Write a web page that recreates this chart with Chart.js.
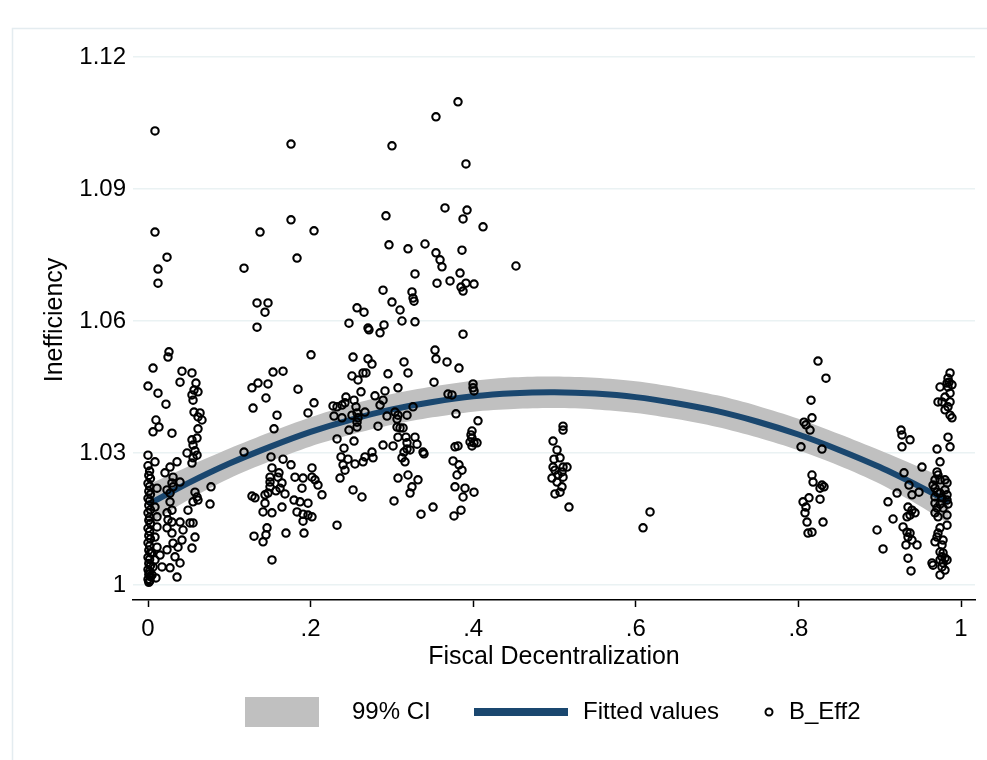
<!DOCTYPE html>
<html lang="en">
<head>
<meta charset="UTF-8">
<title>Inefficiency and Fiscal Decentralization</title>
<script src="https://cdn.jsdelivr.net/npm/chart.js@4"></script>
<style>
  html, body { margin: 0; padding: 0; background: #fff; }
  #wrap { width: 987px; height: 760px; }
</style>
</head>
<body>
<div id="wrap"><canvas id="effChart" width="987" height="760"></canvas></div>
<script>
// B_Eff2 observations as [fiscal decentralization, inefficiency], by cluster
const nearZero = [
  [.0086,1.1032],[.0086,1.0802],[.0234,1.0745],[.0123,1.0718],[.0123,1.0686],[.0258,1.0530],[.0246,1.0518],
  [.0062,1.0493],[.0418,1.0486],[.0541,1.0482],[.0394,1.0461],[.0590,1.0459],[0,1.0452],[.0123,1.0436],
  [.0566,1.0443],[.0615,1.0439],[.0541,1.0432],[.0554,1.0420],[.0221,1.0411],[.0566,1.0393],[.0640,1.0391],
  [.0664,1.0375],[.0615,1.0382],[.0098,1.0375],[.0135,1.0359],[.0062,1.0348],[.0295,1.0345],[.0615,1.0355],
  [.0603,1.0334],[.0541,1.0330],[.0554,1.0318],[.0480,1.0300],[.0578,1.0305],[.0603,1.0295],[.0541,1.0277],
  [.0554,1.0289],[0,1.0295],[.0086,1.0280],[.0357,1.0280],[.0271,1.0268],[.0209,1.0255],[.0308,1.0245],
  [.0394,1.0234],[.0295,1.0232],[.0111,1.0220],[.0234,1.0216],[.0271,1.0209],[.0308,1.0223],[.0775,1.0223],
  [.0578,1.0211],[.0603,1.0200],[.0554,1.0189],[.0615,1.0193],[.0763,1.0184],[.0492,1.0170],[.0271,1.0189],
  [.0295,1.0170],[.0234,1.0164],[.0246,1.0148],[.0295,1.0143],[.0394,1.0143],[.0517,1.0141],[.0554,1.0141],
  [.0234,1.0130],[.0295,1.0118],[.0431,1.0125],[.0578,1.0109],[.0418,1.0102],[.0308,1.0095],[.0369,1.0086],
  [.0541,1.0084],[.0234,1.0080],[.0332,1.0064],[.0394,1.0050],[.0271,1.0039],[.0357,1.0018],[.0086,1.0177],
  [.0111,1.0155],[.0111,1.0132],[.0086,1.0109],[.0111,1.0086],[.0049,1.0073],[.0086,1.0057],[.0062,1.0041],
  [.0148,1.0068],[.0172,1.0041],[.0050,1.0023],[.0098,1.0016],[.0025,1.0011],
  [0,1.0271],[.002,1.0259],[.001,1.0249],[.003,1.0242],[0,1.0231],[.002,1.0224],[.001,1.0213],[.003,1.0206],
  [0,1.0197],[.002,1.0191],[.001,1.0181],[.003,1.0171],[0,1.0164],[.002,1.0154],[.001,1.0147],[.003,1.0140],
  [0,1.0129],[.002,1.0122],[.001,1.0112],[.003,1.0105],[0,1.0096],[.002,1.0089],[.001,1.0079],[.003,1.0073],
  [0,1.0063],[.002,1.0058],[.001,1.0049],[.003,1.0044],[0,1.0035],[.002,1.0031],[.001,1.0024],[.003,1.0019],
  [0,1.0013],[.002,1.0009],[.001,1.0006]
];
const lowShare = [
  [.1759,1.1002],[.1759,1.0830],[.1378,1.0802],[.2042,1.0805],[.1833,1.0743],[.1181,1.0720],[.1341,1.0641],
  [.1476,1.0641],[.1439,1.0620],[.1341,1.0586],[.2005,1.0523],[.1538,1.0484],[.1661,1.0486],[.1279,1.0448],
  [.1353,1.0459],[.1476,1.0457],[.1845,1.0445],[.1451,1.0425],[.1292,1.0402],[.2042,1.0414],[.1587,1.0386],
  [.1968,1.0391],[.1550,1.0355],[.1181,1.0302],[.1513,1.0291],[.1661,1.0286],[.1759,1.0273],[.1525,1.0266],
  [.1611,1.0255],[.1501,1.0245],[.1501,1.0234],[.1501,1.0223],[.1476,1.0209],[.1599,1.0245],[.1648,1.0232],
  [.1624,1.0220],[.1808,1.0245],[.1907,1.0243],[.2017,1.0266],[.2017,1.0245],[.2054,1.0239],[.2091,1.0227],
  [.2140,1.0205],[.1574,1.0214],[.1685,1.0207],[.1894,1.0220],[.1279,1.0202],[.1316,1.0198],[.1439,1.0205],
  [.1439,1.0186],[.1648,1.0177],[.1796,1.0193],[.1870,1.0189],[.1968,1.0186],[.1415,1.0166],[.1525,1.0164],
  [.1833,1.0166],[.1907,1.0161],[.1968,1.0159],[.2017,1.0155],[.1907,1.0145],[.1464,1.0130],[.1304,1.0111],
  [.1415,1.0098],[.1451,1.0114],[.1697,1.0118],[.1919,1.0118],[.1525,1.0057]
];
const midShare = [
  [.3813,1.1098],[.3542,1.1064],[.3001,1.0998],[.3911,1.0957],[.3653,1.0857],[.3924,1.0852],[.3875,1.0832],
  [.4121,1.0814],[.2927,1.0839],[.2964,1.0773],[.3198,1.0764],[.3407,1.0775],[.3542,1.0755],[.3592,1.0739],
  [.3616,1.0723],[.3862,1.0761],[.3284,1.0707],[.3555,1.0686],[.3715,1.0691],[.3838,1.0709],[.3911,1.0686],
  [.4010,1.0684],[.3850,1.0677],[.3875,1.0668],[.2891,1.0670],[.3247,1.0666],[.3260,1.0652],[.3001,1.0643],
  [.2571,1.0630],[.2657,1.0620],[.3100,1.0625],[.3272,1.0645],[.3124,1.0600],[.3284,1.0598],[.2472,1.0595],
  [.2903,1.0591],[.2706,1.0584],[.2718,1.0580],[.2854,1.0573],[.3875,1.0570],[.2522,1.0518],[.2706,1.0514],
  [.2755,1.0502],[.3149,1.0507],[.3530,1.0534],[.3542,1.0514],[.3678,1.0507],[.3825,1.0493],[.3198,1.0482],
  [.2509,1.0475],[.2583,1.0466],[.2645,1.0482],[.2681,1.0482],[.2952,1.0480],[.3518,1.0461],[.3075,1.0448],
  [.2620,1.0439],[.2792,1.0430],[.2915,1.0441],[.2891,1.0420],[.2854,1.0409],[.2435,1.0427],[.2534,1.0420],
  [.2423,1.0414],[.2386,1.0409],[.2325,1.0405],[.2276,1.0407],[.2558,1.0405],[.2509,1.0386],[.2571,1.0391],
  [.2583,1.0380],[.2571,1.0370],[.2571,1.0359],[.2288,1.0384],[.2386,1.0380],[.2669,1.0393],[.3038,1.0393],
  [.3075,1.0386],[.3063,1.0377],[.2940,1.0384],[.3186,1.0386],[.3260,1.0405],[.3690,1.0434],[.3739,1.0432],
  [.3998,1.0457],[.3998,1.0448],[.4010,1.0441],[.3788,1.0389],[.4059,1.0373],[.2829,1.0361],[.2472,1.0352],
  [.3063,1.0359],[.3100,1.0357],[.3137,1.0357],[.3075,1.0336],[.3173,1.0336],[.3284,1.0336],[.2325,1.0332],
  [.2534,1.0327],[.3985,1.0350],[.3973,1.0341],[.3985,1.0334],[.3961,1.0325],[.4010,1.0323],[.4047,1.0323],
  [.3985,1.0316],[.3186,1.0323],[.3309,1.0320],[.2891,1.0318],[.3014,1.0316],[.3776,1.0314],[.3813,1.0316],
  [.2411,1.0311],[.3186,1.0309],[.3223,1.0307],[.3149,1.0302],[.3383,1.0302],[.3395,1.0298],[.2755,1.0302],
  [.2374,1.0291],[.2460,1.0286],[.2669,1.0291],[.2645,1.0280],[.2768,1.0289],[.3124,1.0289],[.3161,1.0280],
  [.3752,1.0282],[.3825,1.0273],[.3862,1.0261],[.3801,1.0250],[.2399,1.0273],[.2423,1.0261],[.2546,1.0275],
  [.2362,1.0243],[.3075,1.0243],[.3198,1.0250],[.3321,1.0239],[.3776,1.0223],[.3899,1.0220],[.2522,1.0216],
  [.2632,1.0200],[.3247,1.0223],[.3223,1.0209],[.4010,1.0211],[.3875,1.0200],[.3026,1.0191],[.3506,1.0177],
  [.3358,1.0161],[.3850,1.0170],[.3764,1.0157],[.2325,1.0136],[.4526,1.0725]
];
const halfShare = [
  [.5105,1.0361],[.5105,1.0352],[.4982,1.0327],[.5031,1.0307],[.4994,1.0286],[.5068,1.0289],[.4982,1.0268],
  [.5006,1.0261],[.5105,1.0268],[.5154,1.0268],[.5092,1.0257],[.5043,1.0250],[.5105,1.0245],[.4969,1.0243],
  [.5031,1.0234],[.5092,1.0223],[.5068,1.0211],[.5006,1.0207],[.5178,1.0177],[.6175,1.0166],[.6089,1.0130]
];
const highShare = [
  [.8241,1.0509],[.8339,1.0470],[.8155,1.0420],[.8167,1.0380],[.8069,1.0370],[.8093,1.0364],[.8143,1.0352],
  [.8032,1.0314],[.8290,1.0309],[.8167,1.0250],[.8180,1.0234],[.8290,1.0227],[.8266,1.0220],[.8315,1.0223],
  [.8266,1.0195],[.8130,1.0198],[.8057,1.0189],[.8093,1.0177],[.8081,1.0164],[.8106,1.0143],[.8303,1.0143],
  [.8118,1.0118],[.8167,1.0120]
];
const fullShare = [
  [.9865,1.0482],[.9840,1.0470],[.9852,1.0461],[.9828,1.0459],[.9889,1.0455],[.9742,1.0450],[.9840,1.0450],
  [.9865,1.0436],[.9803,1.0427],[.9717,1.0416],[.9766,1.0416],[.9865,1.0416],[.9840,1.0405],[.9803,1.0398],
  [.9865,1.0386],[.9889,1.0380],[.9262,1.0352],[.9274,1.0341],[.9373,1.0330],[.9274,1.0314],[.9840,1.0336],
  [.9865,1.0314],[.9705,1.0309],[.9742,1.0280],[.9520,1.0268],[.9705,1.0257],[.9717,1.0250],[.9680,1.0239],
  [.9742,1.0239],[.9803,1.0239],[.9828,1.0232],[.9299,1.0255],[.9360,1.0227],[.9397,1.0205],[.9483,1.0211],
  [.9213,1.0209],[.9102,1.0189],[.9656,1.0227],[.9680,1.0220],[.9705,1.0211],[.9742,1.0209],[.9803,1.0216],
  [.9828,1.0205],[.9680,1.0200],[.9766,1.0198],[.9828,1.0193],[.9680,1.0186],[.9742,1.0184],[.9840,1.0184],
  [.9705,1.0175],[.9779,1.0175],[.9680,1.0164],[.9828,1.0159],[.9717,1.0155],[.9348,1.0177],[.9397,1.0170],
  [.9434,1.0164],[.9336,1.0155],[.9373,1.0159],[.9164,1.0150],[.9828,1.0136],[.9742,1.0130],[.9717,1.0118],
  [.9705,1.0109],[.9680,1.0098],[.9779,1.0102],[.9766,1.0091],[.8967,1.0125],[.9287,1.0132],[.9336,1.0120],
  [.9373,1.0118],[.9348,1.0109],[.9397,1.0102],[.9323,1.0091],[.9459,1.0091],[.9041,1.0082],[.9742,1.0075],
  [.9779,1.0073],[.9766,1.0064],[.9803,1.0061],[.9742,1.0057],[.9828,1.0057],[.9779,1.0050],[.9348,1.0061],
  [.9643,1.0050],[.9656,1.0045],[.9766,1.0041],[.9803,1.0034],[.9742,1.0023],[.9385,1.0032]
];

// quadratic fit and its 99% confidence band, read at steps along x
const fitX   = [0, .05, .1, .15, .2, .25, .3, .35, .4, .45, .5, .55, .6, .65, .7, .75, .8, .85, .9, .95, .985];
const fitY   = [1.0183, 1.0232, 1.0276, 1.0314, 1.0348, 1.0376, 1.0399, 1.0416, 1.0429, 1.0436, 1.0438,
                1.0435, 1.0427, 1.0413, 1.0395, 1.0371, 1.0342, 1.0307, 1.0268, 1.0223, 1.0189];
const ciHigh = [1.0228, 1.0270, 1.0310, 1.0347, 1.0381, 1.0410, 1.0434, 1.0451, 1.0464, 1.0472, 1.0474,
                1.0471, 1.0463, 1.0449, 1.0431, 1.0407, 1.0378, 1.0343, 1.0306, 1.0267, 1.0239];
const ciLow  = [1.0138, 1.0194, 1.0242, 1.0281, 1.0315, 1.0342, 1.0364, 1.0381, 1.0394, 1.0400, 1.0402,
                1.0399, 1.0391, 1.0377, 1.0359, 1.0335, 1.0306, 1.0271, 1.0230, 1.0179, 1.0139];

const xTicks = [0, .2, .4, .6, .8, 1];
const yTicks = [1, 1.03, 1.06, 1.09, 1.12];
const legendLabels = ['99% CI', 'Fitted values', 'B_Eff2'];

const FONT = '"Liberation Sans", Arial, Helvetica, sans-serif';
const BAND = '#c0c0c0';
const NAVY = '#1a476f';

const toXY = (xs, ys) => xs.map((x, i) => ({ x: x, y: ys[i] }));
const points = [...nearZero, ...lowShare, ...midShare, ...halfShare, ...highShare, ...fullShare]
  .map(p => ({ x: p[0], y: p[1] }));

const tickText = v => {
  const s = String(v);
  return s.startsWith('0.') ? s.slice(1) : s;
};

// outer frame and the legend row under the plot
const stataFrame = {
  id: 'stataFrame',
  beforeDraw(chart) {
    const ctx = chart.ctx;
    ctx.save();
    ctx.strokeStyle = '#e4ecf0';
    ctx.lineWidth = 1.5;
    ctx.strokeRect(12.5, 28.5, 1200, 1200);
    ctx.restore();
  },
  afterDraw(chart) {
    const ctx = chart.ctx;
    ctx.save();
    ctx.font = '24px ' + FONT;
    ctx.textBaseline = 'middle';
    // band swatch
    ctx.fillStyle = BAND;
    ctx.fillRect(245, 697, 74, 30);
    ctx.fillStyle = '#000';
    ctx.fillText(legendLabels[0], 352, 712);
    // line swatch
    ctx.fillStyle = NAVY;
    ctx.fillRect(474, 708, 94, 8);
    ctx.fillStyle = '#000';
    ctx.fillText(legendLabels[1], 583, 712);
    // marker swatch
    ctx.beginPath();
    ctx.arc(769, 712, 3.5, 0, Math.PI * 2);
    ctx.lineWidth = 2;
    ctx.strokeStyle = '#000';
    ctx.stroke();
    ctx.fillText(legendLabels[2], 789, 712);
    ctx.restore();
  }
};

new Chart(document.getElementById('effChart'), {
  type: 'scatter',
  data: {
    datasets: [
      {
        label: 'ciHigh',
        data: toXY(fitX, ciHigh),
        showLine: true,
        fill: '+1',
        backgroundColor: BAND,
        borderWidth: 0,
        pointRadius: 0,
        tension: 0.3,
        order: 3
      },
      {
        label: 'ciLow',
        data: toXY(fitX, ciLow),
        showLine: true,
        fill: false,
        borderWidth: 0,
        pointRadius: 0,
        tension: 0.3,
        order: 3
      },
      {
        label: 'Fitted values',
        data: toXY(fitX, fitY),
        showLine: true,
        fill: false,
        borderColor: NAVY,
        borderWidth: 6,
        pointRadius: 0,
        tension: 0.3,
        order: 2
      },
      {
        label: 'B_Eff2',
        data: points,
        pointStyle: 'circle',
        pointRadius: 3.7,
        borderWidth: 2.1,
        borderColor: '#000',
        backgroundColor: 'rgba(0,0,0,0)',
        order: 1
      }
    ]
  },
  options: {
    responsive: false,
    animation: false,
    devicePixelRatio: 1,
    layout: { padding: { left: 0, top: 40, right: 12, bottom: 0 } },
    plugins: {
      legend: { display: false },
      tooltip: { enabled: false }
    },
    scales: {
      x: {
        type: 'linear',
        min: -0.01845,
        max: 1.0172,
        afterFit: s => { s.height = 160; },
        afterBuildTicks: s => { s.ticks = xTicks.map(v => ({ value: v })); },
        grid: {
          drawOnChartArea: false,
          drawTicks: true,
          tickLength: 7,
          tickColor: '#000',
          tickWidth: 1.5
        },
        border: { display: true, color: '#000', width: 1.5 },
        ticks: {
          color: '#000',
          font: { family: FONT, size: 24 },
          padding: 8,
          maxRotation: 0,
          callback: v => tickText(v)
        },
        title: {
          display: true,
          text: 'Fiscal Decentralization',
          color: '#000',
          font: { family: FONT, size: 25 },
          padding: { bottom: 88 }
        }
      },
      y: {
        type: 'linear',
        min: 0.99659,
        max: 1.12386,
        afterFit: s => { s.width = 133; },
        afterBuildTicks: s => { s.ticks = yTicks.map(v => ({ value: v })); },
        grid: {
          color: '#eaf2f3',
          lineWidth: 1.5,
          drawTicks: false
        },
        border: { display: false },
        ticks: {
          color: '#000',
          font: { family: FONT, size: 24 },
          padding: 7,
          callback: v => tickText(v)
        },
        title: {
          display: true,
          text: 'Inefficiency',
          color: '#000',
          font: { family: FONT, size: 25 },
          padding: { top: 40 }
        }
      }
    }
  },
  plugins: [stataFrame]
});
</script>
</body>
</html>
